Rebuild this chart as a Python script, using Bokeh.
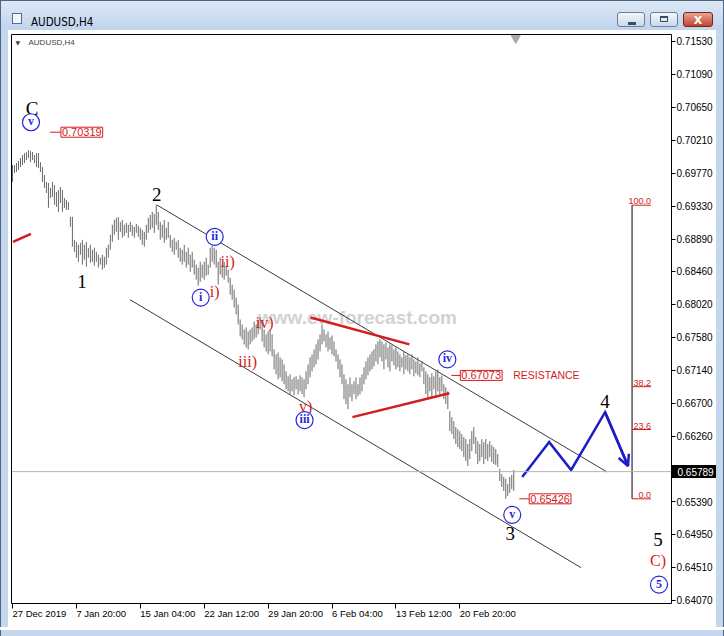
from bokeh.plotting import figure
from bokeh.models import (Range1d, FixedTicker, PrintfTickFormatter, Label, Span,
                          Arrow, OpenHead, LinearAxis, Div)
from bokeh.layouts import column, row
from bokeh.core.properties import value
from bokeh.embed import file_html
from bokeh.resources import INLINE

# ---------------- data (AUDUSD H4, bar index = 4h bar) ----------------
highs = [
    0.69881, 0.69881, 0.69907, 0.69934, 0.69974, 0.70014, 0.70040, 0.70053, 0.70080, 0.70067,
    0.70053, 0.70014, 0.70040, 0.70040, 0.69920, 0.69854, 0.69748, 0.69654, 0.69641, 0.69575,
    0.69654, 0.69615, 0.69521, 0.69548, 0.69588, 0.69548, 0.69442, 0.69415, 0.69388, 0.69189,
    0.69189, 0.68883, 0.68856, 0.68817, 0.68843, 0.68883, 0.68817, 0.68856, 0.68777, 0.68817,
    0.68750, 0.68777, 0.68723, 0.68684, 0.68644, 0.68684, 0.68657, 0.68777, 0.68817, 0.68950,
    0.69083, 0.69149, 0.69176, 0.69189, 0.69122, 0.69149, 0.69083, 0.69109, 0.69083, 0.69122,
    0.69083, 0.69056, 0.69096, 0.69069, 0.69043, 0.69016, 0.68989, 0.69083, 0.69176, 0.69216,
    0.69255, 0.69229, 0.69349, 0.69255, 0.69122, 0.69083, 0.69149, 0.69043, 0.69122, 0.68950,
    0.68883, 0.68910, 0.68856, 0.68883, 0.68777, 0.68750, 0.68817, 0.68723, 0.68777, 0.68684,
    0.68723, 0.68617, 0.68551, 0.68511, 0.68590, 0.68551, 0.68590, 0.68644, 0.68551, 0.68777,
    0.68803, 0.68777, 0.68750, 0.68590, 0.68644, 0.68551, 0.68590, 0.68537, 0.68484, 0.68378,
    0.68285, 0.68218, 0.68112, 0.68019, 0.67819, 0.67753, 0.67686, 0.67713, 0.67659, 0.67686,
    0.67713, 0.67792, 0.67753, 0.67819, 0.67846, 0.67792, 0.67686, 0.67620, 0.67659, 0.67686,
    0.67620, 0.67420, 0.67354, 0.67380, 0.67314, 0.67287, 0.67221, 0.67127, 0.67061, 0.67088,
    0.67021, 0.67048, 0.67061, 0.67021, 0.67074, 0.67048, 0.67021, 0.67127, 0.67221, 0.67314,
    0.67354, 0.67420, 0.67487, 0.67553, 0.67620, 0.67753, 0.67686, 0.67620, 0.67659, 0.67580,
    0.67606, 0.67526, 0.67420, 0.67354, 0.67287, 0.67221, 0.67088, 0.67021, 0.66955, 0.67048,
    0.66955, 0.66994, 0.67048, 0.66955, 0.67048, 0.67088, 0.67181, 0.67260, 0.67314, 0.67354,
    0.67393, 0.67420, 0.67487, 0.67526, 0.67553, 0.67526, 0.67487, 0.67513, 0.67447, 0.67487,
    0.67473, 0.67420, 0.67447, 0.67393, 0.67354, 0.67314, 0.67393, 0.67340, 0.67354, 0.67314,
    0.67354, 0.67287, 0.67260, 0.67314, 0.67234, 0.67260, 0.67181, 0.67127, 0.67088, 0.67048,
    0.67101, 0.67061, 0.67127, 0.67154, 0.67048, 0.67073, 0.66955, 0.66915, 0.66861, 0.66595,
    0.66516, 0.66462, 0.66383, 0.66356, 0.66329, 0.66290, 0.66250, 0.66223, 0.66157, 0.66223,
    0.66329, 0.66383, 0.66250, 0.66196, 0.66157, 0.66223, 0.66183, 0.66223, 0.66157, 0.66196,
    0.66143, 0.66117, 0.66090, 0.66024, 0.65824, 0.65758, 0.65718, 0.65691, 0.65625, 0.65718,
    0.65744, 0.65811,
]
lows = [
    0.69654, 0.69774, 0.69787, 0.69814, 0.69854, 0.69881, 0.69907, 0.69947, 0.69974, 0.69920,
    0.69947, 0.69907, 0.69854, 0.69841, 0.69787, 0.69654, 0.69575, 0.69508, 0.69309, 0.69442,
    0.69455, 0.69349, 0.69322, 0.69255, 0.69375, 0.69255, 0.69309, 0.69282, 0.69282, 0.69056,
    0.68790, 0.68723, 0.68644, 0.68590, 0.68684, 0.68551, 0.68617, 0.68524, 0.68644, 0.68577,
    0.68590, 0.68537, 0.68590, 0.68511, 0.68551, 0.68484, 0.68511, 0.68551, 0.68644, 0.68750,
    0.68856, 0.68950, 0.68989, 0.68883, 0.68989, 0.68910, 0.68936, 0.68976, 0.68910, 0.68989,
    0.68936, 0.68910, 0.68976, 0.68923, 0.68883, 0.68817, 0.68790, 0.68883, 0.68976, 0.69016,
    0.69043, 0.68976, 0.69083, 0.69016, 0.68883, 0.68910, 0.68843, 0.68883, 0.68910, 0.68777,
    0.68723, 0.68684, 0.68750, 0.68644, 0.68590, 0.68551, 0.68590, 0.68511, 0.68551, 0.68457,
    0.68511, 0.68418, 0.68351, 0.68271, 0.68324, 0.68378, 0.68351, 0.68404, 0.68418, 0.68511,
    0.68590, 0.68551, 0.68511, 0.68285, 0.68418, 0.68378, 0.68351, 0.68404, 0.68311, 0.68152,
    0.68085, 0.67979, 0.67886, 0.67753, 0.67593, 0.67553, 0.67487, 0.67447, 0.67420, 0.67487,
    0.67526, 0.67553, 0.67580, 0.67620, 0.67686, 0.67526, 0.67447, 0.67393, 0.67354, 0.67393,
    0.67327, 0.67154, 0.67088, 0.67021, 0.67048, 0.66994, 0.66955, 0.66888, 0.66861, 0.66822,
    0.66861, 0.66808, 0.66888, 0.66822, 0.66861, 0.66822, 0.66782, 0.66888, 0.66955, 0.67048,
    0.67127, 0.67181, 0.67221, 0.67287, 0.67393, 0.67487, 0.67526, 0.67447, 0.67393, 0.67420,
    0.67354, 0.67327, 0.67260, 0.67154, 0.67048, 0.66955, 0.66755, 0.66689, 0.66622, 0.66782,
    0.66728, 0.66822, 0.66755, 0.66795, 0.66822, 0.66861, 0.66955, 0.67021, 0.67074, 0.67127,
    0.67154, 0.67194, 0.67260, 0.67221, 0.67314, 0.67260, 0.67154, 0.67287, 0.67181, 0.67127,
    0.67260, 0.67207, 0.67154, 0.67181, 0.67127, 0.67181, 0.67088, 0.67154, 0.67127, 0.67088,
    0.67154, 0.67061, 0.67101, 0.67074, 0.67048, 0.67127, 0.66955, 0.66822, 0.66755, 0.66861,
    0.66782, 0.66888, 0.66808, 0.66861, 0.66822, 0.66861, 0.66755, 0.66689, 0.66622, 0.66329,
    0.66290, 0.66223, 0.66157, 0.66117, 0.66090, 0.66063, 0.65984, 0.65930, 0.65864, 0.65957,
    0.66063, 0.66157, 0.66024, 0.65891, 0.65930, 0.65984, 0.65891, 0.65957, 0.65930, 0.65984,
    0.65917, 0.65891, 0.65877, 0.65851, 0.65664, 0.65585, 0.65531, 0.65426, 0.65465, 0.65505,
    0.65558, 0.65531,
]
bar_index = list(range(len(highs)))

time_tick_bars = [0, 32, 64, 96, 128, 160, 192, 224]
time_tick_labels = ["27 Dec 2019", "7 Jan 20:00", "15 Jan 04:00", "22 Jan 12:00",
                    "29 Jan 20:00", "6 Feb 04:00", "13 Feb 12:00", "20 Feb 20:00"]
price_ticks = [0.71530, 0.71090, 0.70650, 0.70210, 0.69770, 0.69330, 0.68890, 0.68460,
               0.68020, 0.67580, 0.67140, 0.66700, 0.66260, 0.65390, 0.64950, 0.64510, 0.64070]
last_price = 0.65789

# marked price levels: leader start bar, box bar, price
mark_prices = [0.70319, 0.67073, 0.65426]
mark_leader_bar = [18.75, 219.75, 253.75]
mark_box_bar = [24.25, 224.25, 258.75]
resistance_text = "RESISTANCE"
resistance_bar = 250.75

# fibonacci retracement (wave 2 top -> wave 3 low)
fib_high = 0.69345
fib_low = 0.65426
fib_levels = [100.0, 38.2, 23.6, 0.0]
fib_bar = [310.25, 319.75]

# Elliott wave labels
wave_black_text = ["C", "1", "2", "3", "4", "5"]
wave_black_bar = [9.75, 34.75, 72.25, 249.25, 296.75, 323.25]
wave_black_price = [0.70639, 0.68324, 0.69482, 0.64960, 0.66728, 0.64880]

wave_red_text = ["i)", "ii)", "iii)", "iv)", "v)", "C)"]
wave_red_bar = [101.25, 107.75, 117.75, 126.25, 146.75, 323.25]
wave_red_price = [0.68191, 0.68590, 0.67260, 0.67779, 0.66662, 0.64600]

wave_circle_text = ["v", "i", "ii", "iii", "iv", "v", "5"]
wave_circle_bar = [9.25, 94.25, 101.25, 146.25, 217.75, 250.25, 323.75]
wave_circle_price = [0.70452, 0.68112, 0.68923, 0.66476, 0.67287, 0.65212, 0.64281]

# trend lines
channel_upper_bar = [72.25, 297.75]
channel_upper_price = [0.69349, 0.65784]
channel_lower_bar = [58.75, 284.75]
channel_lower_price = [0.68085, 0.64507]
triangle_upper_bar = [149.25, 198.75]
triangle_upper_price = [0.67846, 0.67487]
triangle_lower_bar = [170.25, 218.75]
triangle_lower_price = [0.66516, 0.66835]
left_trend_bar = [0.25, 9.25]
left_trend_price = [0.68856, 0.68963]

# projected path (wave 4 then 5)
projection_bar = [255.25, 268.75, 279.75, 296.75, 308.25]
projection_price = [0.65718, 0.66183, 0.65811, 0.66582, 0.65864]

watermark_text = "www.ew-forecast.com"
watermark_bar = 172.75
watermark_price = 0.67846

symbol = "AUDUSD,H4"

# ---------------- styling ----------------
RED = "#d41c1c"
BLUE = "#1c1cc8"
CIRCLE_BLUE = "#2626dc"
FRAME_BLUE = "#c4d7ee"
FRAME_DARK = "#52657f"

p = figure(width=708, height=597, output_backend="svg", toolbar_location=None, title=None,
           x_range=Range1d(-0.5, 330.0), y_range=Range1d(0.64029, 0.71623),
           y_axis_location="right", min_border_left=3, min_border_right=44,
           min_border_top=4, min_border_bottom=22)
p.background_fill_color = "white"
p.border_fill_color = "white"
p.outline_line_color = "black"
p.outline_line_width = 1
p.xgrid.visible = False
p.ygrid.visible = False

yax = p.yaxis[0]
# the minor tick at the last price draws the black price-tag box
yax.ticker = FixedTicker(ticks=price_ticks, minor_ticks=[last_price])
yax.formatter = PrintfTickFormatter(format="%.5f")
yax.axis_line_color = None
yax.major_tick_out = 4
yax.major_tick_in = 0
yax.minor_tick_out = 46
yax.minor_tick_in = 0
yax.minor_tick_line_width = 13
yax.minor_tick_line_color = "black"
yax.major_tick_line_color = "black"
yax.major_label_standoff = -41      # labels measured from the long minor tick
yax.major_label_text_font = "Liberation Sans"
yax.major_label_text_font_size = "10px"
yax.major_label_text_color = "black"

# second (outer) axis only writes the white last-price text back over the tag box
tag_axis = LinearAxis(ticker=FixedTicker(ticks=[last_price]),
                      formatter=PrintfTickFormatter(format="%.5f"), axis_line_color=None,
                      major_tick_in=0, major_tick_out=0, major_tick_line_color=None,
                      minor_tick_in=0, minor_tick_out=0, minor_tick_line_color=None,
                      major_label_standoff=-38, major_label_text_color="white",
                      major_label_text_font="Liberation Sans", major_label_text_font_size="10px")
p.add_layout(tag_axis, "right")

xax = p.xaxis[0]
xax.ticker = FixedTicker(ticks=time_tick_bars)
xax.major_label_overrides = dict(zip(time_tick_bars, time_tick_labels))
xax.major_label_orientation = -0.0001   # tiny angle -> labels start at the tick
xax.axis_line_color = None
xax.major_tick_out = 5
xax.major_tick_in = 0
xax.minor_tick_out = 0
xax.minor_tick_in = 0
xax.major_tick_line_color = "black"
xax.major_label_standoff = 5
xax.major_label_text_font = "Liberation Sans"
xax.major_label_text_font_size = "9.5px"
xax.major_label_text_color = "black"

# watermark
p.text(x=[watermark_bar], y=[watermark_price], text=[watermark_text],
       text_font=value("Liberation Sans"), text_font_style="bold", text_font_size="19px",
       text_color="#d2d2d2", text_align="center", text_baseline="middle")

# channel lines
p.line(channel_upper_bar, channel_upper_price, line_color="#3a3a3a", line_width=1)
p.line(channel_lower_bar, channel_lower_price, line_color="#3a3a3a", line_width=1)

# price bars
p.segment(x0=bar_index, y0=lows, x1=bar_index, y1=highs, line_color="#6a6a6a", line_width=1)

# current price line
p.add_layout(Span(location=last_price, dimension="width", line_color="#b4b4b4", line_width=1))

# red trend lines
for xs, ys in [(triangle_upper_bar, triangle_upper_price),
               (triangle_lower_bar, triangle_lower_price),
               (left_trend_bar, left_trend_price)]:
    p.line(xs, ys, line_color=RED, line_width=2.5)

# marked prices with leader lines and boxed labels
p.segment(x0=mark_leader_bar, y0=mark_prices, x1=mark_box_bar, y1=mark_prices,
          line_color=RED, line_width=1)
for bb, pr in zip(mark_box_bar, mark_prices):
    p.add_layout(Label(x=bb, y=pr, text=f"{pr:.5f}", text_align="left", text_baseline="middle",
                       text_font="Liberation Sans", text_font_size="11px", text_color=RED,
                       border_line_color=RED, border_line_width=1,
                       background_fill_color="white", padding=1))
p.text(x=[resistance_bar], y=[mark_prices[1]], text=[resistance_text],
       text_font=value("Liberation Sans"), text_font_size="10.5px", text_color=RED,
       text_align="left", text_baseline="middle")

# projection
p.line(projection_bar, projection_price, line_color=BLUE, line_width=2.5, line_join="miter")
p.add_layout(Arrow(end=OpenHead(size=11, line_color=BLUE, line_width=2.5),
                   x_start=projection_bar[-2], y_start=projection_price[-2],
                   x_end=projection_bar[-1], y_end=projection_price[-1],
                   line_color=BLUE, line_width=2.5))

# fibonacci
fib_prices = [fib_low + lv / 100.0 * (fib_high - fib_low) for lv in fib_levels]
p.segment(x0=[fib_bar[0]], y0=[fib_low], x1=[fib_bar[0]], y1=[fib_high],
          line_color="black", line_width=1)
p.segment(x0=[fib_bar[0]] * len(fib_levels), y0=fib_prices,
          x1=[fib_bar[1]] * len(fib_levels), y1=fib_prices, line_color=RED, line_width=1)
p.text(x=[fib_bar[1]] * len(fib_levels), y=fib_prices, text=[f"{lv:.1f}" for lv in fib_levels],
       text_font=value("Liberation Sans"), text_font_size="9px", text_color=RED,
       text_align="right", text_baseline="bottom", y_offset=-1)

# wave labels
p.text(x=wave_black_bar, y=wave_black_price, text=wave_black_text,
       text_font=value("Liberation Serif"), text_font_size="19px", text_color="black",
       text_align="center", text_baseline="middle")
p.text(x=wave_red_bar, y=wave_red_price, text=wave_red_text,
       text_font=value("Liberation Serif"), text_font_size="16px", text_color=RED,
       text_align="center", text_baseline="middle")
p.scatter(x=wave_circle_bar, y=wave_circle_price, marker="circle", size=17,
          fill_color="white", line_color=CIRCLE_BLUE, line_width=1.2)
p.text(x=wave_circle_bar, y=wave_circle_price, text=wave_circle_text,
       text_font=value("Liberation Serif"), text_font_style="bold", text_font_size="12px",
       text_color=CIRCLE_BLUE, text_align="center", text_baseline="middle", y_offset=-1)

# chart-shift marker at the last bar
p.scatter(x=[bar_index[-1] + 1], y=[p.y_range.end - 0.0005], marker="inverted_triangle",
          size=9, fill_color="#a8a8a8", line_color="#a8a8a8")

# inner chart caption
p.add_layout(Label(x=4, y=561, x_units="screen", y_units="screen", text="\u25bc",
                   text_font="DejaVu Sans", text_font_size="6px", text_baseline="middle"))
p.add_layout(Label(x=17, y=561, x_units="screen", y_units="screen", text=symbol,
                   text_font="Liberation Sans", text_font_size="8px", text_baseline="middle"))

# ---------------- window chrome (HTML) ----------------
btn = ("position:absolute;top:11px;height:15px;border:1px solid #6c7f9c;border-radius:3px;"
       "background:linear-gradient(#f4f7fb,#cbd9eb);")
title_html = (
    f'<div style="position:relative;width:724px;height:30px;box-sizing:border-box;'
    f'border-top:1px solid {FRAME_DARK};border-left:1px solid {FRAME_DARK};'
    f'border-right:1px solid {FRAME_DARK};background:linear-gradient(#dce8f6,#c0d4ec);">'
    '<div style="position:absolute;left:11px;top:12px;width:10px;height:11px;'
    'background:#f4f7fb;border:1px solid #4d6e9e;"></div>'
    '<div style="position:absolute;left:30px;top:14px;font-size:11.5px;line-height:14px;'
    'color:#000;font-family:\'Liberation Sans Narrow\',\'DejaVu Sans Condensed\',\'Liberation Sans\',sans-serif;">'
    f'{symbol}</div>'
    f'<div style="{btn}left:616px;width:28px;">'
    '<div style="position:absolute;left:10px;top:9px;width:8px;height:3px;background:#3a4d6a;"></div></div>'
    f'<div style="{btn}left:649px;width:28px;">'
    '<div style="position:absolute;left:9px;top:3px;width:8px;height:6px;border:1px solid #3a4d6a;'
    'border-top-width:2px;"></div></div>'
    '<div style="position:absolute;left:682px;top:11px;width:30px;height:15px;'
    'border:1px solid #6b2a20;border-radius:3px;background:linear-gradient(#e9a593,#c4432d);'
    'color:#fff;font:bold 11px \'DejaVu Sans\',sans-serif;text-align:center;line-height:15px;">X</div>'
    '</div>'
)
title_div = Div(text=title_html, width=724, height=30, margin=0)
left_div = Div(text=f'<div style="width:8px;height:597px;box-sizing:border-box;background:{FRAME_BLUE};'
                    f'border-left:1px solid {FRAME_DARK};"></div>', width=8, height=597, margin=0)
right_div = Div(text=f'<div style="width:8px;height:597px;box-sizing:border-box;background:{FRAME_BLUE};'
                     f'border-right:1px solid {FRAME_DARK};"></div>', width=8, height=597, margin=0)
bottom_div = Div(text=f'<div style="width:724px;height:9px;box-sizing:border-box;background:{FRAME_BLUE};'
                      f'border:1px solid {FRAME_DARK};border-top:none;"></div>', width=724, height=9, margin=0)

layout = column(title_div, row(left_div, p, right_div), bottom_div)

open("out.html", "w").write(file_html(layout, INLINE))
